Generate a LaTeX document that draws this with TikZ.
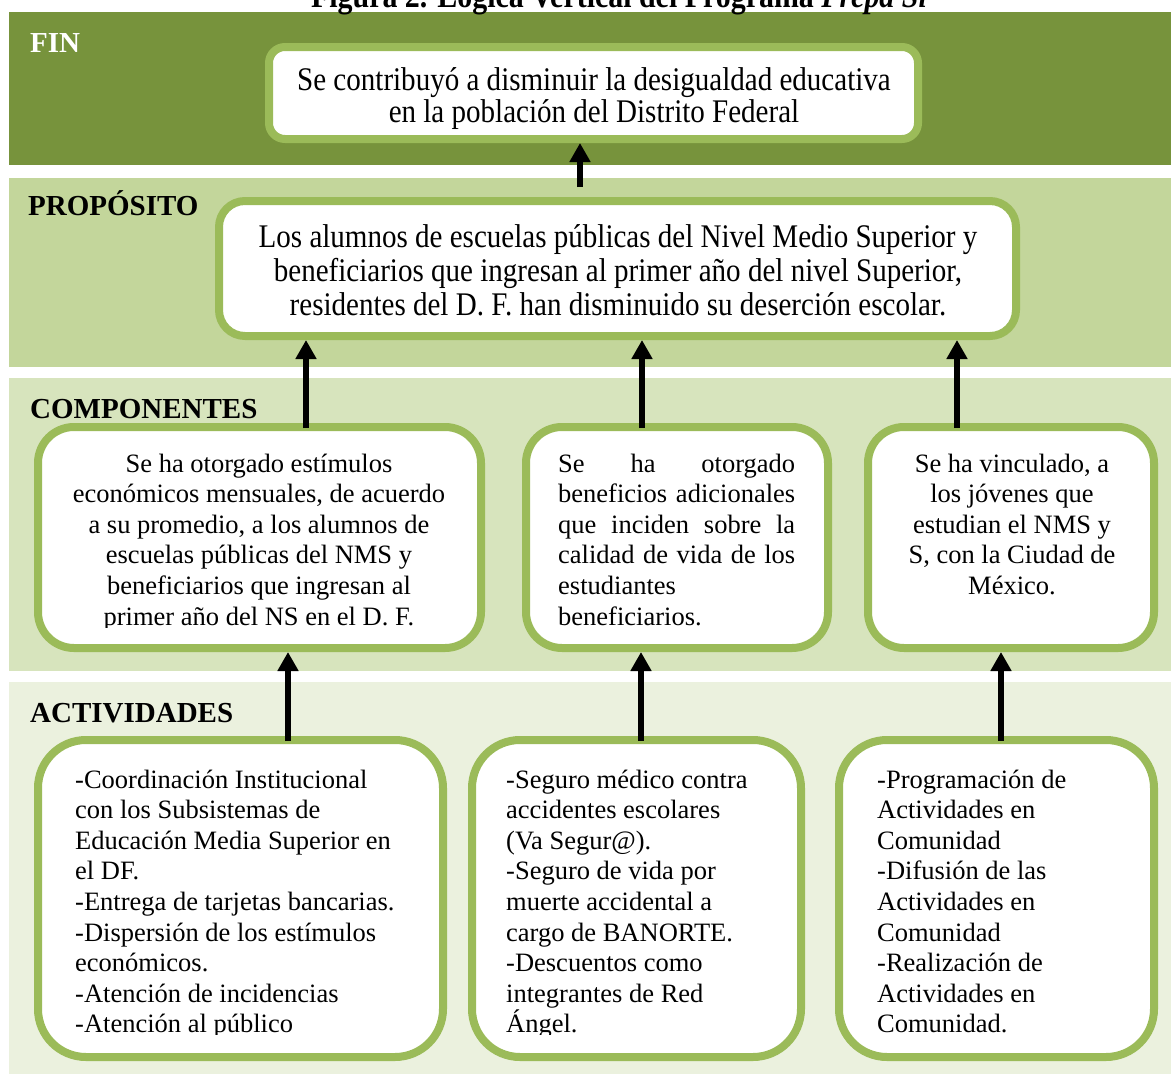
\documentclass[tikz,border=0pt]{standalone}
\usepackage{fontspec}
\setmainfont{Liberation Serif}
\newfontfamily\condfont[FakeStretch=0.88]{Liberation Serif}
\usetikzlibrary{arrows.meta}
\definecolor{finband}{HTML}{77933C}
\definecolor{propband}{HTML}{C3D69B}
\definecolor{compband}{HTML}{D7E4BD}
\definecolor{actband}{HTML}{EBF1DE}
\definecolor{boxline}{HTML}{9BBB59}
\begin{document}
\begin{tikzpicture}[x=1pt,y=-1pt,
  gbox/.style={draw=boxline,line width=8pt,fill=white,inner sep=0pt,anchor=north west},
  lvl/.style={font=\fontsize{29}{32}\selectfont\bfseries,inner sep=0pt,anchor=base west},
  uparrow/.style={line width=6.5pt,-{Triangle[width=20pt,length=19pt]}},
  txt/.style={inner sep=0pt,anchor=base}
]
\useasboundingbox (0,0) rectangle (1171,1074);
\fill[white] (0,0) rectangle (1171,1074);
% bands
\fill[finband] (9,12) rectangle (1171,165);
\fill[propband] (9,178) rectangle (1171,367);
\fill[compband] (9,378) rectangle (1171,671);
\fill[actband] (9,682) rectangle (1171,1074);
% title (cut at the top, as in the reference)
\node[txt] (title) at (620,7) {\condfont\bfseries\fontsize{34}{34}\selectfont Figura 2. Lógica Vertical del Programa \textit{Prepa Sí}};
% level labels
\node[lvl,text=white] (lfin) at (30,52) {FIN};
\node[lvl] (lprop) at (28,215) {PROPÓSITO};
\node[lvl] (lcomp) at (30,418) {COMPONENTES};
\node[lvl] (lact) at (30,722) {ACTIVIDADES};
% boxes
\node[gbox,rounded corners=16pt,minimum width=649pt,minimum height=92pt] (fin) at (265,43) {};
\node[gbox,rounded corners=26pt,minimum width=797pt,minimum height=135pt] (prop) at (215,197) {};
\node[gbox,rounded corners=36pt,minimum width=443pt,minimum height=221pt] (c1) at (34,423) {};
\node[gbox,rounded corners=36pt,minimum width=302pt,minimum height=221pt] (c2) at (522,423) {};
\node[gbox,rounded corners=36pt,minimum width=286pt,minimum height=221pt] (c3) at (864,423) {};
\node[gbox,rounded corners=48pt,minimum width=405pt,minimum height=317pt] (a1) at (34,736) {};
\node[gbox,rounded corners=48pt,minimum width=329pt,minimum height=317pt] (a2) at (468,736) {};
\node[gbox,rounded corners=48pt,minimum width=315pt,minimum height=317pt] (a3) at (835,736) {};
% texts
\node[txt] (fintext) at (594,90) {\condfont\fontsize{33}{32}\selectfont\parbox[t]{640pt}{\centering
Se contribuyó a disminuir la desigualdad educativa\\
en la población del Distrito Federal}};
\node[txt] (proptext) at (618,247) {\condfont\fontsize{33}{34}\selectfont\parbox[t]{790pt}{\centering
Los alumnos de escuelas públicas del Nivel Medio Superior y\\
beneficiarios que ingresan al primer año del nivel Superior,\\
residentes del D. F. han disminuido su deserción escolar.}};
\begin{scope}
\clip (0,0) rectangle (1171,627);
\node[txt] (c1text) at (259,472) {\fontsize{26.5}{30.6}\selectfont\parbox[t]{420pt}{\centering
Se ha otorgado estímulos\\
económicos mensuales, de acuerdo\\
a su promedio, a los alumnos de\\
escuelas públicas del NMS y\\
beneficiarios que ingresan al\\
primer año del NS en el D. F.}};
\end{scope}
\node[txt,anchor=base west] (c2text) at (558,472) {\fontsize{26.5}{30.6}\selectfont\parbox[t]{237pt}{\raggedright
\makebox[237pt][s]{Se ha otorgado}\\
\makebox[237pt][s]{beneficios adicionales}\\
\makebox[237pt][s]{que inciden sobre la}\\
\makebox[237pt][s]{calidad de vida de los}\\
estudiantes\\
beneficiarios.}};
\node[txt] (c3text) at (1012,472) {\fontsize{26.5}{30.6}\selectfont\parbox[t]{270pt}{\centering
Se ha vinculado, a\\
los jóvenes que\\
estudian el NMS y\\
S, con la Ciudad de\\
México.}};
\begin{scope}
\clip (0,0) rectangle (1171,1034);
\node[txt,anchor=base west] (a1text) at (75,788) {\fontsize{26.5}{30.6}\selectfont\parbox[t]{360pt}{\raggedright
-Coordinación Institucional\\
con los Subsistemas de\\
Educación Media Superior en\\
el DF.\\
-Entrega de tarjetas bancarias.\\
-Dispersión de los estímulos\\
económicos.\\
-Atención de incidencias\\
-Atención al público}};
\node[txt,anchor=base west] (a2text) at (506,788) {\fontsize{26.5}{30.6}\selectfont\parbox[t]{290pt}{\raggedright
-Seguro médico contra\\
accidentes escolares\\
(Va Segur@).\\
-Seguro de vida por\\
muerte accidental a\\
cargo de BANORTE.\\
-Descuentos como\\
integrantes de Red\\
Ángel.}};
\end{scope}
\node[txt,anchor=base west] (a3text) at (877,788) {\fontsize{26.5}{30.6}\selectfont\parbox[t]{270pt}{\raggedright
-Programación de\\
Actividades en\\
Comunidad\\
-Difusión de las\\
Actividades en\\
Comunidad\\
-Realización de\\
Actividades en\\
Comunidad.}};
% arrows
\coordinate (fintail) at (580,187);
\coordinate (xp1) at (306,0);
\coordinate (xp2) at (642,0);
\coordinate (xp3) at (957,0);
\coordinate (xc1) at (288,0);
\coordinate (xc2) at (641,0);
\coordinate (xc3) at (1001,0);
\draw[uparrow] (fintail) -- (fin.south -| fintail);
\draw[uparrow] ([yshift=-5pt]c1.north -| xp1) -- (prop.south -| xp1);
\draw[uparrow] ([yshift=-5pt]c2.north -| xp2) -- (prop.south -| xp2);
\draw[uparrow] ([yshift=-5pt]c3.north -| xp3) -- (prop.south -| xp3);
\draw[uparrow] ([yshift=-5pt]a1.north -| xc1) -- (c1.south -| xc1);
\draw[uparrow] ([yshift=-5pt]a2.north -| xc2) -- (c2.south -| xc2);
\draw[uparrow] ([yshift=-5pt]a3.north -| xc3) -- (c3.south -| xc3);
\end{tikzpicture}
\end{document}
